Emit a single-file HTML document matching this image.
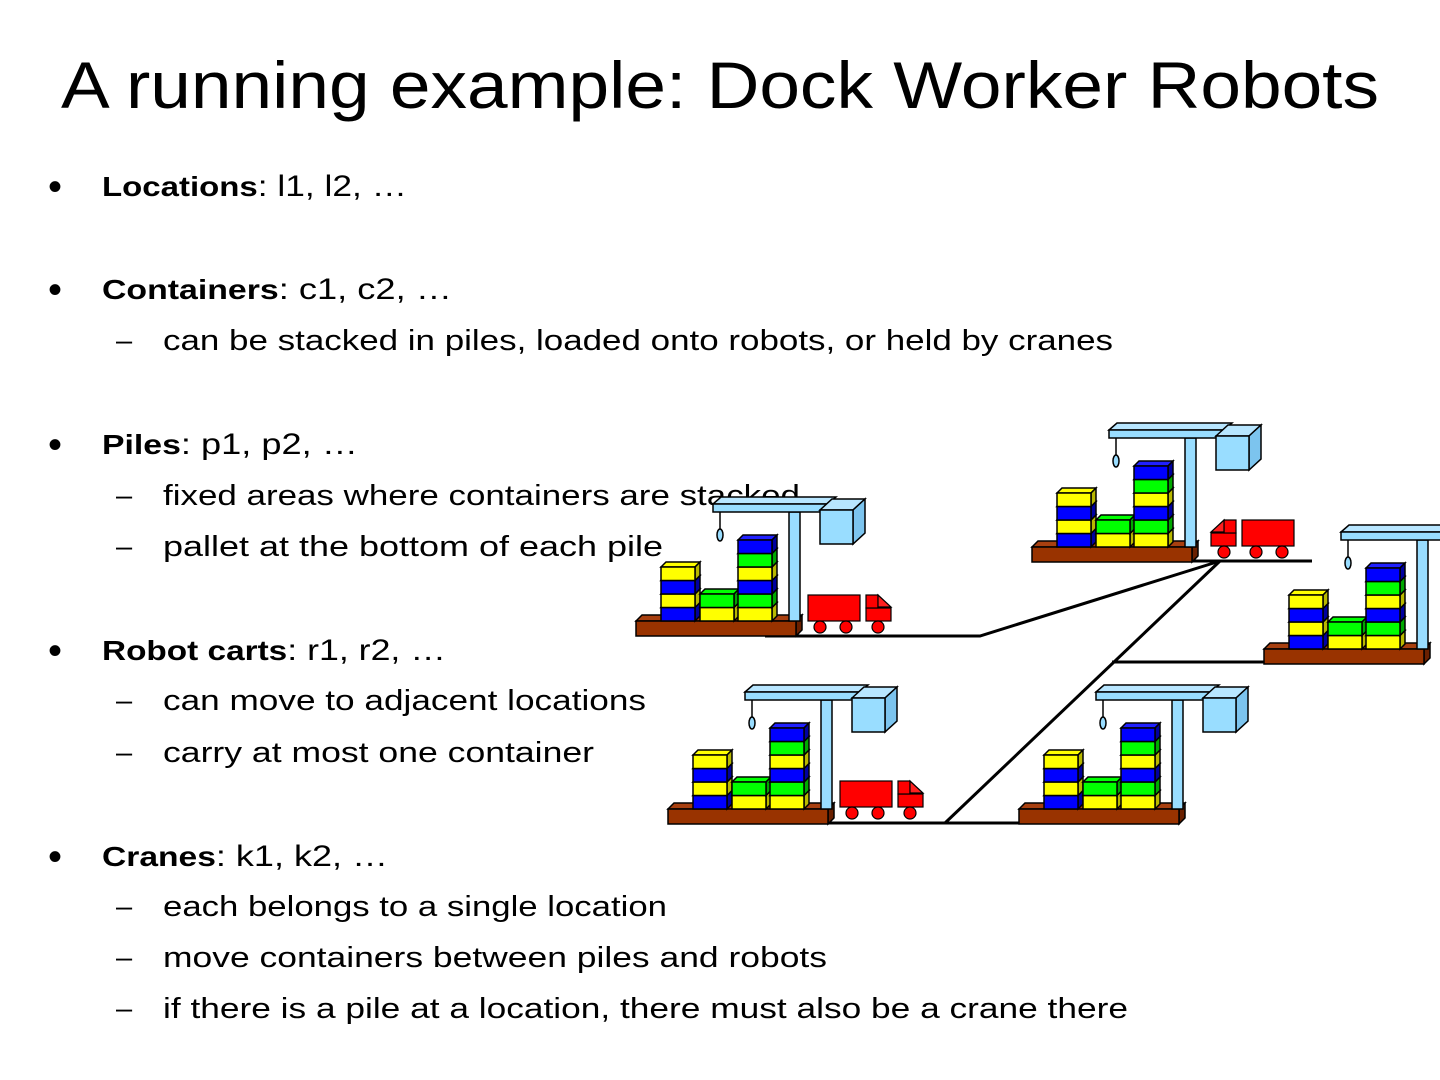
<!DOCTYPE html>
<html><head><meta charset="utf-8"><style>html,body{margin:0;padding:0;background:#fff}svg{display:block}</style></head><body>
<svg width="1440" height="1080" viewBox="0 0 1440 1080" xmlns="http://www.w3.org/2000/svg">
<defs>
<g id="Y"><polygon points="0,0 5,-5 39,-5 34,0" fill="#ffff00" stroke="#000"/><polygon points="34,0 39,-5 39,8.5 34,13.5" fill="#b8b800" stroke="#000"/><rect width="34" height="13.5" fill="#ffff00" stroke="#000"/></g>
<g id="B"><polygon points="0,0 5,-5 39,-5 34,0" fill="#2020ff" stroke="#000"/><polygon points="34,0 39,-5 39,8.5 34,13.5" fill="#0000a0" stroke="#000"/><rect width="34" height="13.5" fill="#0000ff" stroke="#000"/></g>
<g id="G"><polygon points="0,0 5,-5 39,-5 34,0" fill="#00ff00" stroke="#000"/><polygon points="34,0 39,-5 39,8.5 34,13.5" fill="#00a800" stroke="#000"/><rect width="34" height="13.5" fill="#00ff00" stroke="#000"/></g>
<g id="dock" stroke-width="1.5">
  <polygon points="0,126 6,120 166,120 160,126" fill="#a84010" stroke="#000"/>
  <polygon points="160,126 166,120 166,135 160,141" fill="#6a2000" stroke="#000"/>
  <rect x="0" y="126" width="160" height="15" fill="#993300" stroke="#000"/>
  <rect x="153" y="17" width="11" height="109" fill="#99ddff" stroke="#000"/>
  <polygon points="77,9 85,2 200,2 192,9" fill="#b8e6ff" stroke="#000"/>
  <rect x="77" y="9" width="115" height="8" fill="#99ddff" stroke="#000"/>
  <line x1="84" y1="17" x2="84" y2="34" stroke="#000"/>
  <ellipse cx="84" cy="40" rx="3" ry="6" fill="#99ddff" stroke="#000"/>
  <polygon points="184,15 196,4 229,4 217,15" fill="#b8e6ff" stroke="#000"/>
  <polygon points="217,15 229,4 229,38 217,49" fill="#7cc4ee" stroke="#000"/>
  <rect x="184" y="15" width="33" height="34" fill="#99ddff" stroke="#000"/>
  <use href="#B" x="25" y="112.5"/><use href="#Y" x="25" y="99"/><use href="#B" x="25" y="85.5"/><use href="#Y" x="25" y="72"/>
  <use href="#Y" x="64" y="112.5"/><use href="#G" x="64" y="99"/>
  <use href="#Y" x="102" y="112.5"/><use href="#G" x="102" y="99"/><use href="#B" x="102" y="85.5"/><use href="#Y" x="102" y="72"/><use href="#G" x="102" y="58.5"/><use href="#B" x="102" y="45"/>
</g>
<g id="truck" stroke="#000" stroke-width="1.2">
  <rect x="0" y="0" width="52" height="26" fill="#ff0000"/>
  <rect x="58" y="13" width="25" height="13" fill="#ff0000"/>
  <rect x="58" y="0" width="12" height="13" fill="#ff0000"/>
  <polygon points="70,0 83,12 70,12" fill="#ff2020"/>
  <circle cx="12" cy="32" r="6" fill="#ff0000"/>
  <circle cx="38" cy="32" r="6" fill="#ff0000"/>
  <circle cx="70" cy="32" r="6" fill="#ff0000"/>
</g>
</defs>

<text x="720" y="108" text-anchor="middle" font-family="Liberation Sans, sans-serif" font-size="66" textLength="1318" lengthAdjust="spacingAndGlyphs">A running example: Dock Worker Robots</text>

<g font-family="Liberation Sans, sans-serif" font-size="30" fill="#000">
  <g font-size="40"><text x="48" y="200">•</text><text x="48" y="303">•</text><text x="48" y="458">•</text><text x="48" y="664">•</text><text x="48" y="870">•</text></g>
  <text x="102" y="196" textLength="305" lengthAdjust="spacingAndGlyphs"><tspan font-weight="bold" font-size="28">Locations</tspan>: l1, l2, …</text>
  <text x="102" y="299" textLength="350" lengthAdjust="spacingAndGlyphs"><tspan font-weight="bold" font-size="28">Containers</tspan>: c1, c2, …</text>
  <text x="102" y="454" textLength="256" lengthAdjust="spacingAndGlyphs"><tspan font-weight="bold" font-size="28">Piles</tspan>: p1, p2, …</text>
  <text x="102" y="660" textLength="344" lengthAdjust="spacingAndGlyphs"><tspan font-weight="bold" font-size="28">Robot carts</tspan>: r1, r2, …</text>
  <text x="102" y="866" textLength="286" lengthAdjust="spacingAndGlyphs"><tspan font-weight="bold" font-size="28">Cranes</tspan>: k1, k2, …</text>
  <g font-size="29">
    <text x="116" y="350">–</text><text x="163" y="350" textLength="950" lengthAdjust="spacingAndGlyphs">can be stacked in piles, loaded onto robots, or held by cranes</text>
    <text x="116" y="505">–</text><text x="163" y="505" textLength="637" lengthAdjust="spacingAndGlyphs">fixed areas where containers are stacked</text>
    <text x="116" y="556">–</text><text x="163" y="556" textLength="500" lengthAdjust="spacingAndGlyphs">pallet at the bottom of each pile</text>
    <text x="116" y="710">–</text><text x="163" y="710" textLength="483" lengthAdjust="spacingAndGlyphs">can move to adjacent locations</text>
    <text x="116" y="762">–</text><text x="163" y="762" textLength="431" lengthAdjust="spacingAndGlyphs">carry at most one container</text>
    <text x="116" y="916">–</text><text x="163" y="916" textLength="504" lengthAdjust="spacingAndGlyphs">each belongs to a single location</text>
    <text x="116" y="967">–</text><text x="163" y="967" textLength="664" lengthAdjust="spacingAndGlyphs">move containers between piles and robots</text>
    <text x="116" y="1018">–</text><text x="163" y="1018" textLength="965" lengthAdjust="spacingAndGlyphs">if there is a pile at a location, there must also be a crane there</text>
  </g>
</g>

<g stroke="#000" stroke-width="3" fill="none">
  <polyline points="765,636 980,636 1220,561"/>
  <line x1="1183" y1="561" x2="1312" y2="561"/>
  <line x1="1220" y1="561" x2="945" y2="823"/>
  <line x1="826" y1="823" x2="1045" y2="823"/>
  <line x1="1112" y1="662" x2="1330" y2="662"/>
</g>

<use href="#dock" x="636" y="495"/>
<use href="#dock" x="1032" y="421"/>
<use href="#dock" x="1264" y="523"/>
<use href="#dock" x="668" y="683"/>
<use href="#dock" x="1019" y="683"/>

<use href="#truck" x="808" y="595"/>
<use href="#truck" transform="translate(1294,520) scale(-1,1)"/>
<use href="#truck" x="840" y="781"/>
</svg>
</body></html>
